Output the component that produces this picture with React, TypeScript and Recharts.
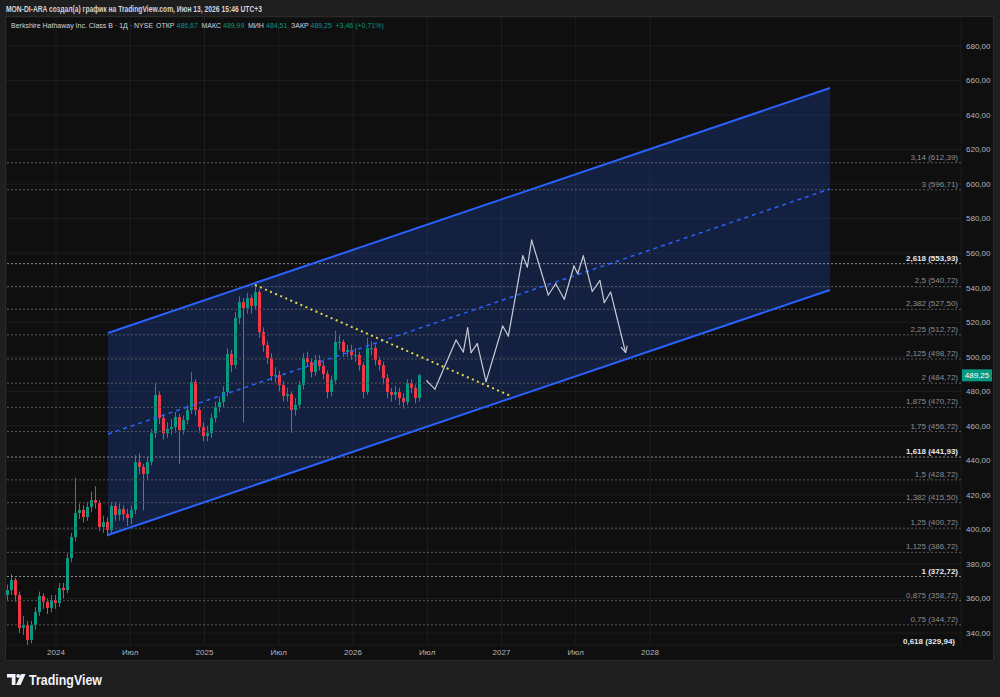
import React from 'react';
import { ComposedChart, Bar, XAxis, YAxis, CartesianGrid, ReferenceLine, ReferenceArea } from 'recharts';

// BRK.B, one candle ~ 10 days
const T0 = 2023.6768;
const STEP = 0.026936;
const firstOpen = 362.0;

const closes = [
  364.9, 370.7, 362.0, 342.9, 344.6, 336.0, 344.6, 352.2, 361.4, 358.0,
  354.5, 359.1, 357.4, 366.1, 364.9, 383.4, 395.6, 409.5, 411.3, 407.2,
  413.0, 417.0, 415.3, 401.4, 404.3, 399.7, 413.6, 408.4, 411.8, 408.9,
  406.6, 411.3, 439.0, 436.2, 432.1, 439.0, 455.8, 477.9, 464.5, 455.8,
  458.2, 459.3, 465.1, 457.6, 463.4, 469.2, 485.4, 469.2, 459.3, 454.1,
  455.8, 464.5, 470.9, 473.8, 479.6, 501.6, 495.2, 522.5, 531.7, 528.2,
  534.0, 529.4, 537.5, 514.3, 506.8, 499.3, 488.9, 489.4, 483.7, 477.3,
  478.4, 469.2, 472.1, 483.7, 499.3, 497.0, 491.2, 498.1, 494.7, 490.0,
  479.6, 486.5, 508.6, 508.6, 502.8, 503.9, 501.0, 501.0, 495.2, 479.6,
  505.1, 505.1, 498.1, 495.2, 487.7, 479.6, 477.9, 479.6, 476.1, 473.8,
  484.8, 481.9, 476.1, 489.25,
];

const highs = [
  368, 374, 372, 364, 350, 347, 347, 355, 364, 363,
  360, 362, 362, 369, 369, 386, 398, 430, 415, 414,
  416, 422, 425, 417, 408, 407, 416, 416, 415, 414,
  412, 414, 443, 444, 438, 442, 458, 485, 480, 467,
  462, 464, 468, 467, 466, 472, 491, 487, 471, 462,
  460, 467, 474, 477, 483, 505, 504, 526, 535, 534,
  537, 536, 542, 539, 517, 509, 502, 494, 492, 486,
  482, 480, 476, 486, 502, 503, 499, 501, 501, 497,
  492, 489, 515, 513, 510, 507, 507, 505, 503, 497,
  511, 509, 507, 500, 497, 490, 482, 483, 482, 479,
  487, 487, 484, 489.99,
];

const lows = [
  359, 362, 358, 340, 339, 333, 334, 342, 350, 354,
  351, 352, 354, 355, 360, 363, 381, 393, 406, 404,
  405, 410, 412, 399, 398, 396, 398, 405, 405, 405,
  402, 403, 409, 432, 411, 429, 437, 453, 461, 452,
  453, 455, 456, 438, 455, 461, 467, 466, 456, 451,
  451, 453, 462, 468, 471, 477, 491, 493, 519, 462,
  525, 525, 527, 511, 503, 496, 486, 485, 480, 474,
  474, 456, 466, 470, 481, 494, 488, 489, 492, 487,
  476, 477, 484, 504, 500, 500, 498, 497, 492, 476,
  478, 501, 495, 492, 484, 476, 474, 475, 472, 470,
  472, 479, 473, 474,
];

const yTicks = [340, 360, 380, 400, 420, 440, 460, 480, 500, 520, 540, 560, 580, 600, 620, 640, 660, 680];
const xTicks = [2024, 2024.5, 2025, 2025.5, 2026, 2026.5, 2027, 2027.5, 2028];
const xLabels = ['2024', 'Июл', '2025', 'Июл', '2026', 'Июл', '2027', 'Июл', '2028'];

const fibRatios = ['3,14', '3', '2,618', '2,5', '2,382', '2,25', '2,125', '2', '1,875', '1,75', '1,618', '1,5', '1,382', '1,25', '1,125', '1', '0,875', '0,75', '0,618'];
const fibPrices = [612.39, 596.71, 553.93, 540.72, 527.5, 512.72, 498.72, 484.72, 470.72, 456.72, 441.93, 428.72, 415.5, 400.72, 386.72, 372.72, 358.72, 344.72, 329.94];
const fibBold = ['2,618', '1,618', '1', '0,618'];

// parallel channel
const channelTimes = [2024.35, 2029.212];
const channelUpper = [513.8, 655.7];
const channelLower = [396.8, 538.7];
const channelMid = [455.3, 597.2];

// yellow dotted trend line
const trendTimes = [2025.34, 2027.057];
const trendPrices = [541.6, 477.5];

// drawn forecast path
const projTimes = [
  2026.496, 2026.552, 2026.694, 2026.743, 2026.772, 2026.795, 2026.837, 2026.896,
  2027.008, 2027.046, 2027.143, 2027.174, 2027.203, 2027.315, 2027.365, 2027.423,
  2027.488, 2027.513, 2027.551, 2027.611, 2027.663, 2027.692, 2027.735, 2027.836,
];
const projPrices = [
  486.1, 481.3, 509.7, 502.8, 516.8, 502.4, 507.6, 485.6,
  517.8, 512.0, 558.5, 552.0, 567.6, 535.8, 542.3, 533.3,
  552.6, 548.1, 558.4, 537.9, 544.1, 531.3, 537.5, 502.4,
];

const lastPrice = 489.25;

// legend line: [text, colour key]
const legendParts: [string, 'txt' | 'val'][] = [
  ['Berkshire Hathaway Inc. Class B · 1Д · NYSE', 'txt'],
  ['ОТКР', 'txt'], ['486,67', 'val'],
  ['МАКС', 'txt'], ['489,99', 'val'],
  ['МИН', 'txt'], ['484,51', 'val'],
  ['ЗАКР', 'txt'], ['489,25', 'val'],
  ['+3,46 (+0,71%)', 'val'],
];
const legendX = [11, 156, 176.5, 201.5, 223, 248, 266, 291, 310.5, 335.5];

const candles = closes.map((c, i) => {
  const o = i === 0 ? firstOpen : closes[i - 1];
  return { t: T0 + i * STEP, o, c, h: highs[i], l: lows[i], range: [lows[i], highs[i]] };
});

const FONT = "'Liberation Sans', Arial, sans-serif";
const GREEN = '#089981';
const RED = '#f23645';
const BLUE = '#2962ff';

const fmt = (v: number) => v.toFixed(2).replace('.', ',');

function Candle(props: any) {
  const { x, y, width, height, payload } = props;
  if (!payload || height == null || isNaN(y)) return null;
  const { o, c, h, l } = payload;
  const cx = x + width / 2;
  const span = h - l || 1;
  const toY = (v: number) => y + ((h - v) / span) * height;
  const top = toY(Math.max(o, c));
  const bottom = toY(Math.min(o, c));
  const color = c >= o ? GREEN : RED;
  return (
    <g>
      <line x1={cx} x2={cx} y1={y} y2={y + height} stroke={color} strokeWidth={1} />
      <rect x={cx - 1.5} y={top} width={3} height={Math.max(1, bottom - top)} fill={color} />
    </g>
  );
}

function ChannelFill(props: any) {
  const { x, y, width, height } = props;
  const top = channelUpper[1];
  const bottom = channelLower[0];
  const toY = (v: number) => y + ((top - v) / (top - bottom)) * height;
  const pts = [
    [x, toY(channelLower[0])],
    [x, toY(channelUpper[0])],
    [x + width, toY(channelUpper[1])],
    [x + width, toY(channelLower[1])],
  ];
  return <polygon points={pts.map((p) => p.join(',')).join(' ')} fill="rgba(41,98,255,0.2)" stroke="none" />;
}

function PriceBadge(props: any) {
  const vb = props.viewBox;
  if (!vb) return null;
  const bx = vb.x + vb.width + 1;
  return (
    <g>
      <rect x={bx} y={vb.y - 6} width={30} height={12} fill={GREEN} />
      <text x={bx + 15} y={vb.y + 3} textAnchor="middle" fill="#ffffff" fontSize={8} fontFamily={FONT}>
        {fmt(lastPrice)}
      </text>
    </g>
  );
}

export default function App() {
  return (
    <div style={{ position: 'absolute', left: 0, top: 0, width: 1000, height: 697, background: '#1e1e1e', overflow: 'hidden' }}>
      <svg width="0" height="0" style={{ position: 'absolute' }}>
        <defs>
          <marker id="projArrow" viewBox="0 0 10 10" refX="9" refY="5" markerWidth="8" markerHeight="8" orient="auto" markerUnits="userSpaceOnUse">
            <path d="M1,1 L9,5 L1,9" fill="none" stroke="#c8ccd6" strokeWidth="1.4" />
          </marker>
        </defs>
      </svg>

      <div style={{ position: 'absolute', left: 5, top: 16, width: 989, height: 645, background: '#0f0f0f', border: '1px solid #2a2a2a', boxSizing: 'border-box' }}>
        <ComposedChart width={987} height={643} data={candles} margin={{ top: 0, right: 0, bottom: 0, left: 0 }}>
          <CartesianGrid stroke="#ffffff" strokeOpacity={0.06} />
          <XAxis
            dataKey="t"
            type="number"
            domain={[2023.6633, 2030.0943]}
            allowDataOverflow
            ticks={xTicks}
            interval={0}
            tickFormatter={(v: number) => xLabels[xTicks.indexOf(v)] ?? ''}
            height={15}
            axisLine={false}
            tickLine={false}
            tickSize={0}
            tickMargin={4}
            tick={{ fill: '#b2b5be', fontSize: 8, fontFamily: FONT }}
          />
          <YAxis
            orientation="right"
            type="number"
            domain={[333.06, 696.8]}
            allowDataOverflow
            ticks={yTicks}
            interval={0}
            tickFormatter={fmt}
            width={32}
            axisLine={false}
            tickLine={false}
            tickSize={0}
            tickMargin={5}
            tick={{ fill: '#b2b5be', fontSize: 8, fontFamily: FONT }}
          />

          <ReferenceArea
            x1={channelTimes[0]}
            x2={channelTimes[1]}
            y1={channelLower[0]}
            y2={channelUpper[1]}
            ifOverflow="visible"
            shape={ChannelFill}
          />

          {fibPrices.map((p, i) => {
            const bold = fibBold.includes(fibRatios[i]);
            const inside = p > 333.06;
            return (
              <ReferenceLine
                key={'fib' + i}
                y={p}
                ifOverflow="visible"
                stroke={bold ? '#8a8d96' : '#565962'}
                strokeOpacity={inside ? 1 : 0}
                strokeDasharray="2 2"
                label={{
                  value: `${fibRatios[i]} (${fmt(p)})`,
                  position: 'insideBottomRight',
                  offset: inside ? 3 : 6,
                  fill: bold ? '#e6e8ee' : '#8b8e98',
                  fontSize: 8,
                  fontWeight: bold ? 700 : 400,
                  fontFamily: FONT,
                }}
              />
            );
          })}

          <Bar dataKey="range" barSize={3} shape={Candle} activeBar={false} isAnimationActive={false} />

          <ReferenceLine
            segment={[{ x: channelTimes[0], y: channelUpper[0] }, { x: channelTimes[1], y: channelUpper[1] }]}
            stroke={BLUE}
            strokeWidth={2}
            ifOverflow="visible"
          />
          <ReferenceLine
            segment={[{ x: channelTimes[0], y: channelLower[0] }, { x: channelTimes[1], y: channelLower[1] }]}
            stroke={BLUE}
            strokeWidth={2}
            ifOverflow="visible"
          />
          <ReferenceLine
            segment={[{ x: channelTimes[0], y: channelMid[0] }, { x: channelTimes[1], y: channelMid[1] }]}
            stroke={BLUE}
            strokeWidth={1.5}
            strokeDasharray="4 4"
            ifOverflow="visible"
          />
          <ReferenceLine
            segment={[{ x: trendTimes[0], y: trendPrices[0] }, { x: trendTimes[1], y: trendPrices[1] }]}
            stroke="#e3d84a"
            strokeWidth={2}
            strokeDasharray="2 3.5"
            ifOverflow="visible"
          />

          {projTimes.slice(0, -1).map((t, i) => {
            const last = i === projTimes.length - 2;
            return (
              <ReferenceLine
                key={'proj' + i}
                segment={[{ x: t, y: projPrices[i] }, { x: projTimes[i + 1], y: projPrices[i + 1] }]}
                stroke="#c8ccd6"
                strokeWidth={1.2}
                strokeLinecap="round"
                ifOverflow="visible"
                shape={
                  last
                    ? (p: any) => (
                        <line x1={p.x1} y1={p.y1} x2={p.x2} y2={p.y2} stroke="#c8ccd6" strokeWidth={1.2} markerEnd="url(#projArrow)" />
                      )
                    : undefined
                }
              />
            );
          })}

          <ReferenceLine y={lastPrice} stroke="none" ifOverflow="visible" label={(p: any) => <PriceBadge {...p} />} />
        </ComposedChart>
      </div>

      <svg width={1000} height={697} style={{ position: 'absolute', left: 0, top: 0, pointerEvents: 'none' }} fontFamily={FONT}>
        <text x={6} y={11.5} fontSize={8.5} fontWeight={700} fill="#d1d4dc" textLength={256} lengthAdjust="spacingAndGlyphs">
          MON-DI-ARA создал(а) график на TradingView.com, Июн 13, 2026 15:46 UTC+3
        </text>

        {legendParts.map(([s, kind], i) => (
          <text key={'lg' + i} x={legendX[i]} y={28} fontSize={7} fill={kind === 'val' ? GREEN : '#d1d4dc'}>
            {s}
          </text>
        ))}

        <g fill="#f0f3fa">
          <path d="M7 674 H15.5 V685 H11.8 V677.4 H7 Z" />
          <circle cx={18.2} cy={675.9} r={1.9} />
          <path d="M21 674 H25.6 L20.6 685 H16 Z" />
          <text x={29} y={684.5} fontSize={14} fontWeight={700} textLength={73} lengthAdjust="spacingAndGlyphs">TradingView</text>
        </g>
      </svg>
    </div>
  );
}
